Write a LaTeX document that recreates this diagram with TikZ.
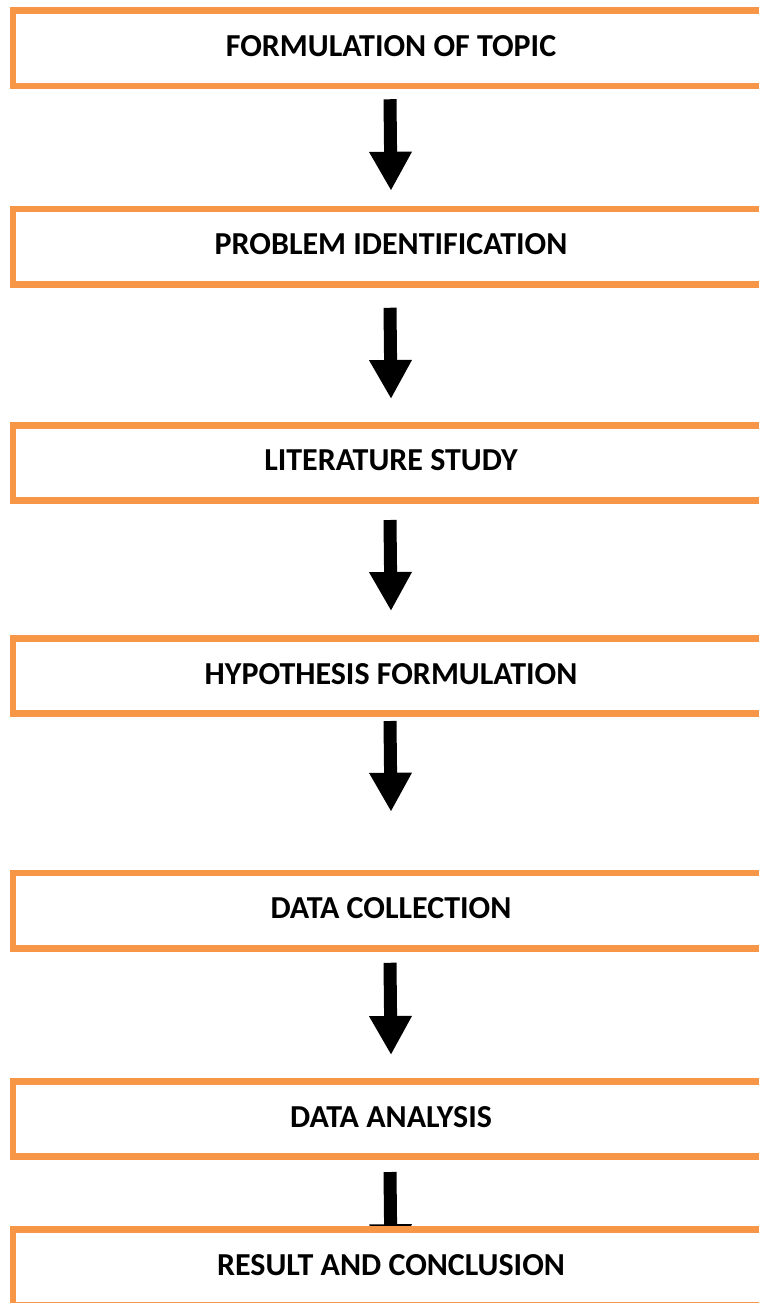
\documentclass[tikz,border=0pt]{standalone}
\usepackage{fontspec}
\setmainfont{Carlito}
\usetikzlibrary{arrows.meta,calc,backgrounds}
\definecolor{boxorange}{RGB}{247,150,70}

\begin{document}
\begin{tikzpicture}[x=0.75pt,y=0.75pt,yscale=-1,xscale=1,
  stepbox/.style={draw=boxorange, line width=4.9pt, fill=white, inner sep=0pt,
    minimum width=567pt, minimum height=56.6pt, text depth=3.75pt,
    font=\fontsize{24}{28}\selectfont\bfseries},
  downarrow/.style={draw=black, line width=9.75pt,
    -{Triangle[width=30pt,length=29.25pt]}}]
%set diagram size 759 x 1303
\useasboundingbox (0,0) rectangle (759,1303);
\clip (0,0) rectangle (759,1303);

% Boxes
\node [stepbox] (b1) at (391,48.25)   {FORMULATION OF TOPIC};
\node [stepbox] (b2) at (391,246.75)  {PROBLEM IDENTIFICATION};
\node [stepbox] (b3) at (391,463)     {LITERATURE STUDY};
\node [stepbox] (b4) at (391,676)     {HYPOTHESIS FORMULATION};
\node [stepbox] (b5) at (391,910.75)  {DATA COLLECTION};
\node [stepbox] (b6) at (391,1119)    {DATA ANALYSIS};
\node [stepbox] (b7) at (391,1267.25) {RESULT AND CONCLUSION};

% Arrows (behind the boxes)
\begin{scope}[on background layer]
\draw [downarrow] ($(b1.south)+(-1,10)$) -- ($(b2.north)+(0,-15)$);
\draw [downarrow] ($(b2.south)+(-1,20)$) -- ($(b3.north)+(0,-23)$);
\draw [downarrow] ($(b3.south)+(-1,16)$) -- ($(b4.north)+(0,-24)$);
\draw [downarrow] ($(b4.south)+(-1,4)$)  -- ($(b5.north)+(0,-58)$);
\draw [downarrow] ($(b5.south)+(-1,11)$) -- ($(b6.north)+(0,-23)$);
\draw [downarrow] ($(b6.south)+(-1,12)$) -- ($(b7.north)+(0,37)$); %tip hidden by last box
\end{scope}

\end{tikzpicture}
\end{document}
